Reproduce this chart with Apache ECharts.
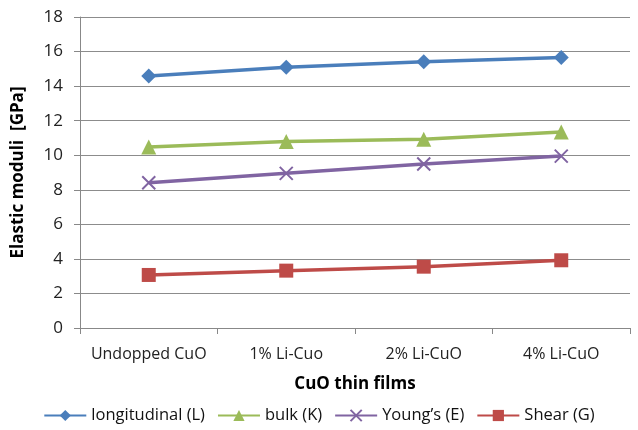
<!DOCTYPE html>
<html><head><meta charset="utf-8">
<script src="https://cdn.jsdelivr.net/npm/echarts@6/dist/echarts.min.js"></script>
<style>html,body{margin:0;padding:0;background:#fff}#c{width:638px;height:430px}</style>
</head><body><div id="c"></div>
<script>
var categories = ['Undopped CuO', '1% Li-Cuo', '2% Li-CuO', '4% Li-CuO'];
var longitudinal = [14.58, 15.09, 15.41, 15.66];
var bulk = [10.48, 10.8, 10.92, 11.35];
var youngs = [8.41, 8.95, 9.49, 9.95];
var shear = [3.07, 3.32, 3.55, 3.92];
var seriesNames = ['longitudinal (L)', 'bulk (K)', 'Young\u2019s (E)', 'Shear (G)'];
var colors = ['#4a7ebb', '#9bbb59', '#8064a2', '#be4b48'];
var symbols = ['diamond', 'triangle', 'path://M0,0L10,10M10,0L0,10', 'rect'];
var symbolSizes = [15, 15, 13, 14];
var yTicks = [0, 18, 2];

var font = 'Open Sans, Liberation Sans, sans-serif';
var data = [longitudinal, bulk, youngs, shear];
var chart = echarts.init(document.getElementById('c'));
chart.setOption({
  animation: false,
  color: colors,
  textStyle: {fontFamily: font},
  grid: {left: 80, right: 8, top: 17, bottom: 102},
  legend: {
    bottom: 1, left: 'center', itemGap: 12, itemWidth: 42, itemHeight: 14,
    textStyle: {fontSize: 16.5, color: '#111', fontFamily: font},
    data: seriesNames
  },
  xAxis: {
    type: 'category', data: categories, boundaryGap: true,
    name: 'CuO thin films', nameLocation: 'middle', nameGap: 48,
    nameTextStyle: {fontSize: 17, fontWeight: 'bold', color: '#000', fontFamily: font},
    axisLine: {lineStyle: {color: '#888', width: 1}},
    axisTick: {show: true, alignWithLabel: false, length: 6, lineStyle: {color: '#888'}},
    axisLabel: {fontSize: 16, color: '#222', margin: 18, interval: 0, fontFamily: font}
  },
  yAxis: {
    type: 'value', min: yTicks[0], max: yTicks[1], interval: yTicks[2],
    name: 'Elastic moduli  [GPa]', nameLocation: 'middle', nameGap: 53,
    nameTextStyle: {fontSize: 17, fontWeight: 'bold', color: '#000', fontFamily: font},
    axisLine: {show: true, lineStyle: {color: '#888', width: 1}},
    axisTick: {show: true, length: 6, lineStyle: {color: '#888'}},
    axisLabel: {fontSize: 17, color: '#222', margin: 17, fontFamily: font},
    splitLine: {lineStyle: {color: '#8c8c8c', width: 1}}
  },
  series: data.map(function (d, i) {
    return {
      name: seriesNames[i], type: 'line', data: d,
      symbol: symbols[i], symbolSize: symbolSizes[i],
      lineStyle: {width: 3.5, color: colors[i]},
      itemStyle: i === 2 ? {color: 'none', borderColor: colors[i], borderWidth: 2} : {color: colors[i]},
      emphasis: {disabled: true}
    };
  })
});
</script></body></html>
